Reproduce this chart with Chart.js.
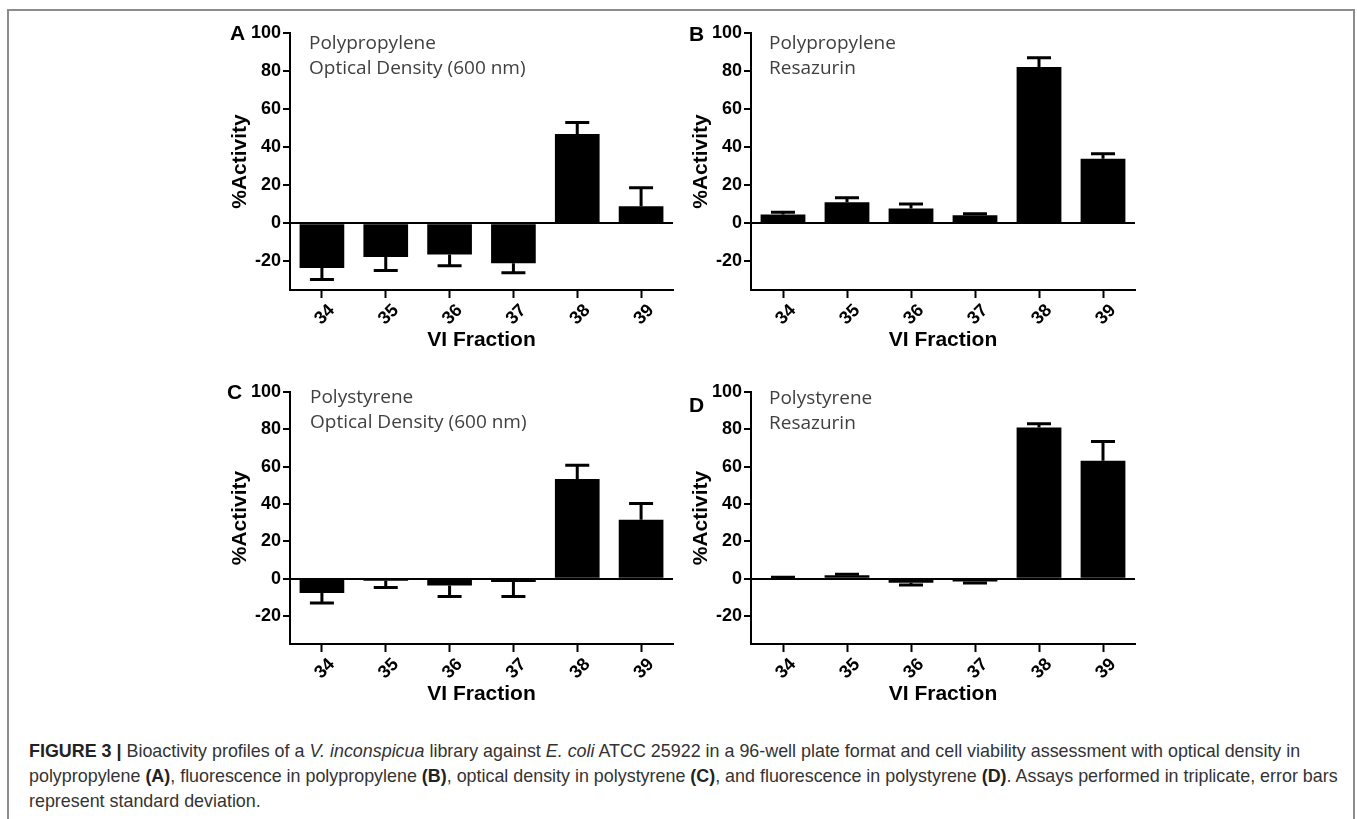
<!DOCTYPE html>
<html>
<head>
<meta charset="utf-8">
<script src="https://cdn.jsdelivr.net/npm/chart.js@4.4.0/dist/chart.umd.min.js"></script>
<style>
  html, body { margin: 0; padding: 0; background: #fff; }
  body { width: 1357px; height: 819px; position: relative; overflow: hidden; }
  #frame { position: absolute; left: 7px; top: 9px; width: 1348px; height: 840px;
           border: 2px solid #8c8c8c; box-sizing: border-box; }
  canvas { position: absolute; }
  .letter { position: absolute; font: bold 21px "Liberation Sans", Arial, sans-serif; color: #000; line-height: 24px; }
  .note { position: absolute; font: 19px "Open Sans", sans-serif; color: #404040; line-height: 25px; white-space: nowrap; }
  #caption { position: absolute; left: 29px; top: 739px; font: 17.9px "Liberation Sans", Arial, sans-serif;
             color: #333; line-height: 25px; white-space: nowrap; }
  #caption b { color: #222; }
</style>
</head>
<body>
<div id="frame"></div>

<canvas id="chartA"></canvas>
<canvas id="chartB"></canvas>
<canvas id="chartC"></canvas>
<canvas id="chartD"></canvas>

<div class="letter" style="left:230px; top:21px;">A</div>
<div class="letter" style="left:689px; top:22px;">B</div>
<div class="letter" style="left:227px; top:380px;">C</div>
<div class="letter" style="left:689px; top:393px;">D</div>

<div class="note" style="left:309px; top:30px;">Polypropylene<br>Optical Density (600 nm)</div>
<div class="note" style="left:769px; top:30px;">Polypropylene<br>Resazurin</div>
<div class="note" style="left:310px; top:384px;">Polystyrene<br>Optical Density (600 nm)</div>
<div class="note" style="left:769px; top:385px;">Polystyrene<br>Resazurin</div>

<div id="caption"><b>FIGURE 3 |</b> Bioactivity profiles of a <i>V. inconspicua</i> library against <i>E. coli</i> ATCC 25922 in a 96-well plate format and cell viability assessment with optical density in<br>polypropylene <b>(A)</b>, fluorescence in polypropylene <b>(B)</b>, optical density in polystyrene <b>(C)</b>, and fluorescence in polystyrene <b>(D)</b>. Assays performed in triplicate, error bars<br>represent standard deviation.</div>

<script>
// data
const fractions = ['34', '35', '36', '37', '38', '39'];
const yTicks = [-20, 0, 20, 40, 60, 80, 100];

const ppOdValues = [-23.5, -17.7, -16.3, -20.9, 47, 9];
const ppOdErrors = [6, 7, 6, 5, 6, 9.7];
const ppResValues = [4.7, 11.1, 7.8, 4.2, 82.2, 34];
const ppResErrors = [1.2, 2.3, 2.4, 0.9, 4.8, 2.6];
const psOdValues = [-7.7, -1.1, -3.6, -1.8, 53.4, 31.5];
const psOdErrors = [5.4, 3.6, 5.9, 7.7, 7.4, 8.8];
const psResValues = [0.5, 1.8, -2.2, -1.5, 81, 63.2];
const psResErrors = [0.3, 0.6, 1.2, 0.8, 2, 10.3];

// where each plot area sits on the page
const panels = [
    { id: 'chartA', left: 290, right: 673, top: 33, bottom: 290, values: ppOdValues, errors: ppOdErrors },
    { id: 'chartB', left: 751, right: 1135, top: 33, bottom: 290, values: ppResValues, errors: ppResErrors },
    { id: 'chartC', left: 290, right: 673, top: 392, bottom: 644, values: psOdValues, errors: psOdErrors },
    { id: 'chartD', left: 751, right: 1135, top: 392, bottom: 644, values: psResValues, errors: psResErrors }
];

const AXIS_FONT = '"Liberation Sans", Arial, sans-serif';
Chart.defaults.color = '#000';

// one-sided error bars, drawn away from zero
const errorBars = {
    id: 'errorBars',
    afterDatasetsDraw(chart, args, opts) {
        const ctx = chart.ctx;
        const y = chart.scales.y;
        const vals = chart.data.datasets[0].data;
        ctx.save();
        ctx.strokeStyle = '#000';
        ctx.lineWidth = 3;
        chart.getDatasetMeta(0).data.forEach(function (bar, i) {
            let v = vals[i];
            let end = v >= 0 ? v + opts.errors[i] : v - opts.errors[i];
            let y0 = y.getPixelForValue(v);
            let y1 = y.getPixelForValue(end);
            ctx.beginPath();
            ctx.moveTo(bar.x, y0);
            ctx.lineTo(bar.x, y1);
            ctx.moveTo(bar.x - 12, y1);
            ctx.lineTo(bar.x + 12, y1);
            ctx.stroke();
        });
        ctx.restore();
    }
};

function drawPanel(p) {
    let canvas = document.getElementById(p.id);
    let cLeft = p.left - 90;
    let cTop = p.top - 18;
    let cWidth = p.right + 20 - cLeft;
    let cHeight = p.bottom + 66 - cTop;
    canvas.width = cWidth;
    canvas.height = cHeight;
    canvas.style.left = cLeft + 'px';
    canvas.style.top = cTop + 'px';

    new Chart(canvas.getContext('2d'), {
        type: 'bar',
        data: {
            labels: fractions,
            datasets: [{
                data: p.values,
                backgroundColor: '#000',
                borderWidth: 0,
                categoryPercentage: 1,
                barPercentage: 0.7
            }]
        },
        plugins: [errorBars],
        options: {
            responsive: false,
            animation: false,
            devicePixelRatio: 1,
            layout: { padding: { top: 18, right: 20, left: 0, bottom: 0 } },
            plugins: {
                legend: { display: false },
                tooltip: { enabled: false },
                errorBars: { errors: p.errors }
            },
            scales: {
                x: {
                    afterFit: function (s) { s.height = 66; },
                    border: { display: true, color: '#000', width: 2 },
                    grid: { display: true, offset: false, drawOnChartArea: false, drawTicks: true,
                            tickLength: 8, tickWidth: 2, tickColor: '#000' },
                    ticks: { minRotation: 45, maxRotation: 45, labelOffset: 10, padding: 2,
                             font: { family: AXIS_FONT, size: 18, weight: 'bold' } },
                    title: { display: true, text: 'VI Fraction', padding: { top: 0, bottom: 3 },
                             font: { family: AXIS_FONT, size: 21, weight: 'bold' } }
                },
                y: {
                    min: -35,
                    max: 100,
                    afterFit: function (s) { s.width = 90; },
                    afterBuildTicks: function (s) { s.ticks = yTicks.map(v => ({ value: v })); },
                    border: { display: true, color: '#000', width: 2 },
                    grid: {
                        color: c => (c.tick && c.tick.value === 0) ? '#000' : 'rgba(0,0,0,0)',
                        lineWidth: 2,
                        tickLength: 7, tickWidth: 2, tickColor: '#000'
                    },
                    ticks: { padding: 2, font: { family: AXIS_FONT, size: 18, weight: 'bold' } },
                    title: { display: true, text: '%Activity', padding: { top: 28, bottom: 0 },
                             font: { family: AXIS_FONT, size: 21, weight: 'bold' } }
                }
            }
        }
    });
}

panels.forEach(drawPanel);
</script>
</body>
</html>
